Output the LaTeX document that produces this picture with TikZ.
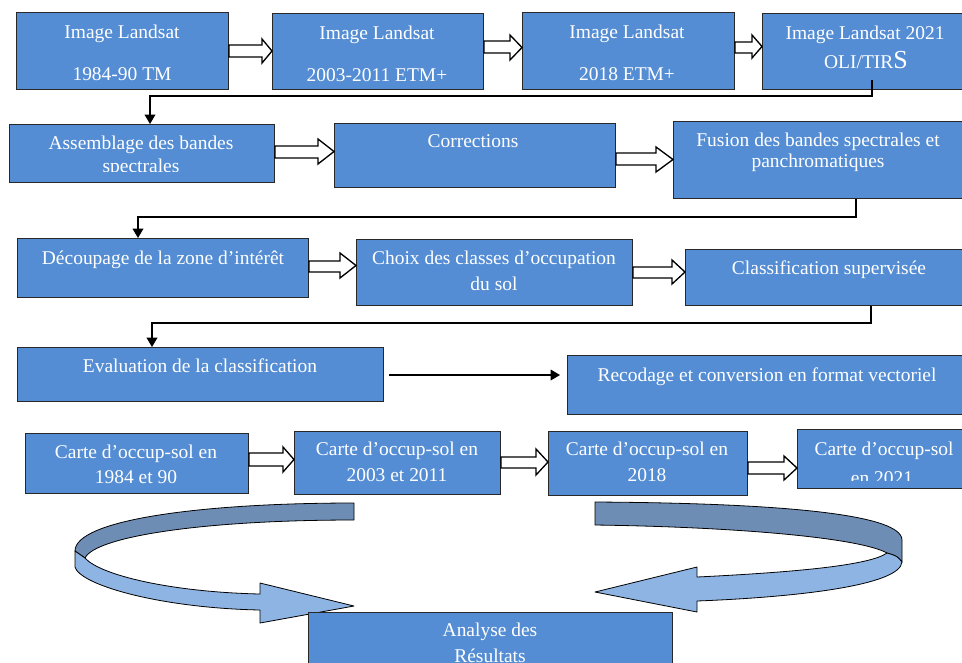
\documentclass[tikz,border=0pt]{standalone}
\usepackage{fontspec}
\setmainfont{Liberation Serif}
\usetikzlibrary{calc,arrows.meta}
\definecolor{boxblue}{RGB}{84,141,212}
\definecolor{ribdark}{RGB}{110,141,181}
\definecolor{riblight}{RGB}{141,180,227}
\definecolor{edgegray}{RGB}{40,40,40}
\tikzset{
  box/.style={draw=edgegray, line width=0.8pt, fill=boxblue, inner sep=0pt, anchor=north west},
  txt/.style={text=white, font=\fontsize{14.6}{17}\selectfont, anchor=base, inner sep=0pt},
  hollow/.style={draw=black, fill=white, line width=1pt, line join=miter},
  conn/.style={draw=black, line width=1pt, -{Triangle[length=7pt,width=8pt]}},
  ribbon/.style={draw=black, line width=0.6pt, line join=round},
}
\newcommand\mkbox[5]{\node[box, minimum width={(#4-#2)*0.75pt}, minimum height={(#5-#3)*0.75pt}] (#1) at (#2,#3) {};}
\newcommand\blockarrow[7]{%
  \pgfmathsetmacro\tipy{(#5+#6)/2}%
  \draw[hollow] (#1.east |- 0,#3) -- ($(#2.west |- 0,#3)+(-#7,0)$) -- ($(#2.west |- 0,#5)+(-#7,0)$)
    -- (#2.west |- 0,\tipy) -- ($(#2.west |- 0,#6)+(-#7,0)$) -- ($(#2.west |- 0,#4)+(-#7,0)$)
    -- (#1.east |- 0,#4) -- cycle;}
\begin{document}
\begin{tikzpicture}[x=0.75pt,y=-0.75pt]
\useasboundingbox (0,0) rectangle (962,662);
\clip (0,0) rectangle (962,662);
\fill[white] (0,0) rectangle (962,662);

% Row 1
\mkbox{b1}{16}{12}{228}{89}
\mkbox{b2}{272}{13}{483}{89}
\mkbox{b3}{522}{12}{734}{89}
\mkbox{b4}{762}{13}{975}{89}
\node[txt] (b1a) at (122,38.3) {Image Landsat};
\node[txt] (b1b) at (122,80) {1984-90 TM};
\node[txt] (b2a) at (377,39.3) {Image Landsat};
\node[txt] (b2b) at (377,81) {2003-2011 ETM+};
\node[txt] (b3a) at (627,38.3) {Image Landsat};
\node[txt] (b3b) at (627,80) {2018 ETM+};
\node[txt] (b4a) at (865,39.3) {Image Landsat 2021};
\node[txt] (b4b) at (866,68.3) {OLI/TIR{\fontsize{19.5}{20}\selectfont S}};
\blockarrow{b1}{b2}{45}{57}{39}{63}{10}
\blockarrow{b2}{b3}{41}{53}{35}{60}{12}
\blockarrow{b3}{b4}{42}{53}{35}{58}{10}

% Row 2
\mkbox{A}{9}{124}{274}{182}
\mkbox{C}{334}{123}{615}{187}
\mkbox{F}{673}{121}{975}{198}
\begin{scope}
  \clip (9,124) rectangle (274,171.5);
  \node[txt] (Aa) at (141,149.3) {Assemblage des bandes};
  \node[txt] (Ab) at (141,172.5) {spectrales};
\end{scope}
\node[txt] (Ca) at (473,147.7) {Corrections};
\node[txt] (Fa) at (818,146) {Fusion des bandes spectrales et};
\node[txt] (Fb) at (818,167.3) {panchromatiques};
\blockarrow{A}{C}{146}{158}{139}{164}{16}
\blockarrow{C}{F}{153}{165}{147}{172}{17}

% Row 3
\mkbox{D}{17}{238}{308}{297}
\mkbox{Ch}{356}{239}{632}{305}
\mkbox{Cl}{685}{249}{975}{305}
\node[txt] (Da) at (163,264.3) {Découpage de la zone d’intérêt};
\node[txt] (Cha) at (494,264.3) {Choix des classes d’occupation};
\node[txt] (Chb) at (494,290) {du sol};
\node[txt] (Cla) at (829,274.3) {Classification supervisée};
\blockarrow{D}{Ch}{261}{272}{253}{278}{16}
\blockarrow{Ch}{Cl}{267}{278}{260}{284}{13}

% Row 4
\mkbox{Ev}{17}{347}{383}{401}
\mkbox{Re}{567}{355}{975}{414}
\node[txt] (Eva) at (200,372.7) {Evaluation de la classification};
\node[txt] (Rea) at (767,381) {Recodage et conversion en format vectoriel};

% Elbow connectors
\draw[conn] ($(b4.south -| 872,0)+(0,-10)$) -- (872,96) -| (A.north -| 150,0);
\draw[conn] (F.south -| 856,0) -- (856,217) -| (D.north -| 138,0);
\draw[conn] (Cl.south -| 871,0) -- (871,323) -| (Ev.north -| 152,0);
\draw[conn] ($(Ev.east |- 0,375)+(5,0)$) -- ($(Re.west |- 0,375)+(-7,0)$);

% Row 5
\mkbox{K1}{25}{433}{248}{493}
\mkbox{K2}{294}{431}{500}{494}
\mkbox{K3}{548}{431}{747}{495}
\mkbox{K4}{797}{429}{975}{488}
\node[txt] (K1a) at (136,458.3) {Carte d’occup-sol en};
\node[txt] (K1b) at (136,483.3) {1984 et 90};
\node[txt] (K2a) at (397,455) {Carte d’occup-sol en};
\node[txt] (K2b) at (397,481.7) {2003 et 2011};
\node[txt] (K3a) at (647,455) {Carte d’occup-sol en};
\node[txt] (K3b) at (647,481.7) {2018};
\begin{scope}
  \clip (797,429) rectangle (975,480);
  \node[txt] (K4a) at (884,455) {Carte d’occup-sol};
  \node[txt] (K4b) at (882,484) {en 2021};
\end{scope}
\blockarrow{K1}{K2}{453}{466}{447}{472}{11}
\blockarrow{K2}{K3}{457}{468}{449}{475}{12}
\blockarrow{K3}{K4}{462}{474}{456}{480}{13}

% Curved ribbon arrows
\draw[ribbon, fill=ribdark] (354,503) -- (354,520) .. controls (200,520) and (95,537) .. (85,558)
  .. controls (80,555) .. (75,551) .. controls (75,520) and (200,503) .. (354,503) -- cycle;
\draw[ribbon, fill=riblight] (75,551) .. controls (80,555) .. (85,558)
  .. controls (100,575) and (170,592) .. (260,594) -- (260,583) -- (354,606) -- (260,623) -- (260,610)
  .. controls (160,608) and (80,585) .. (75,567) -- cycle;

\draw[ribbon, fill=ribdark] (595,502) .. controls (760,503) and (902,512) .. (902,540) -- (902,562)
  .. controls (897,556) .. (887,553) .. controls (860,538) and (740,527) .. (595,525) -- cycle;
\draw[ribbon, fill=riblight] (887,553) .. controls (897,556) .. (902,562)
  .. controls (900,585) and (800,597) .. (697,601) -- (697,612) -- (595,592) -- (697,567) -- (697,577)
  .. controls (800,572) and (870,565) .. (887,553) -- cycle;

% Final box
\mkbox{An}{308}{612}{672}{700}
\node[txt] (Ana) at (490,636) {Analyse des};
\node[txt] (Anb) at (490,662) {Résultats};
\end{tikzpicture}
\end{document}
